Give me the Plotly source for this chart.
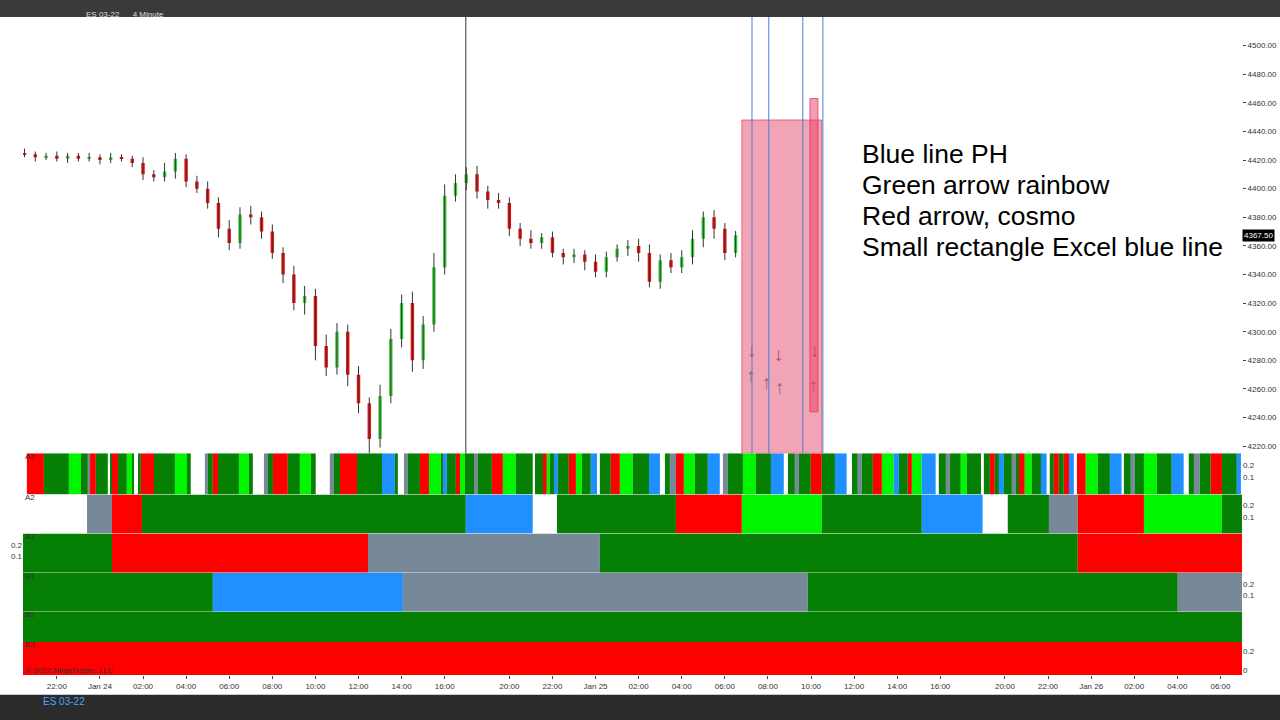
import plotly.graph_objects as go
from plotly.subplots import make_subplots

# x axis unit: trading hours from Jan 24 00:00 (the 17:00-18:00 break is skipped)
tick_pos = [-2, 0, 2, 4, 6, 8, 10, 12, 14, 16, 19, 21, 23, 25, 27, 29, 31, 33, 35, 37, 39, 42, 44, 46, 48, 50, 52]
tick_txt = ["22:00", "Jan 24", "02:00", "04:00", "06:00", "08:00", "10:00", "12:00", "14:00", "16:00",
            "20:00", "22:00", "Jan 25", "02:00", "04:00", "06:00", "08:00", "10:00", "12:00", "14:00",
            "16:00", "20:00", "22:00", "Jan 26", "02:00", "04:00", "06:00"]

# 30 minute candles, Jan 23 20:30 -> Jan 25 06:30
closes = [4424, 4422, 4423, 4421, 4423, 4421, 4422,
          4420, 4422, 4421, 4418, 4410, 4408, 4412, 4421, 4405, 4400, 4390, 4372, 4362, 4382, 4380,
          4370, 4355, 4340, 4320, 4325, 4290, 4275, 4300, 4270, 4250, 4225, 4255, 4295, 4320, 4280,
          4305, 4345, 4395, 4404,
          4410, 4398, 4392, 4390, 4372, 4365, 4362, 4366, 4355, 4352, 4354, 4349,
          4342, 4352, 4358, 4360, 4355, 4335, 4350, 4345, 4352, 4365, 4380, 4372, 4355, 4367.5]
wick_up = [3, 2, 2, 3, 2, 2, 3, 2, 3, 2, 2, 4, 3, 6, 4, 3, 4, 5, 4, 6, 5, 6, 4, 5, 4, 6, 7, 5, 8, 6,
           5, 6, 4, 8, 7, 6, 8, 6, 10, 8, 6, 5, 6, 4, 5, 4, 4, 6, 3, 4, 3, 4, 3, 5, 4, 3, 4, 5, 6,
           4, 5, 5, 6, 4, 5, 4, 3]
wick_dn = [2, 3, 2, 2, 3, 2, 2, 3, 2, 2, 3, 4, 3, 3, 5, 4, 3, 4, 6, 5, 4, 5, 5, 4, 6, 5, 8, 10, 6, 5,
           8, 7, 10, 6, 5, 6, 8, 6, 5, 5, 4, 5, 5, 6, 4, 5, 5, 4, 4, 3, 5, 4, 6, 4, 4, 3, 5, 6, 4,
           5, 4, 4, 5, 6, 7, 5, 3]
candle_x = [-3.5 + 0.5 * i for i in range(len(closes))]
opens = [4425] + closes[:-1]
highs = [max(o, c) + u for o, c, u in zip(opens, closes, wick_up)]
lows = [min(o, c) - d for o, c, d in zip(opens, closes, wick_dn)]

price_ticks = list(range(4220, 4501, 20))

# drawn objects on the price panel
zone_x = [29.79, 33.50]
zone_y = [4215, 4448]
small_x = [32.95, 33.32]
small_y = [4244, 4463]
blue_lines = [30.26, 31.04, 32.62, 33.55]
cursor_line = 16.98
red_arrow_x = [30.26, 31.50, 33.18]
red_arrow_y = [4286, 4283, 4286]
green_arrow_x = [30.21, 30.95, 31.55, 33.13]
green_arrow_y = [4268, 4263, 4260, 4261]

note_lines = ["Blue line PH", "Green arrow rainbow", "Red arrow, cosmo", "Small rectangle Excel blue line"]
note_y = [4424, 4402.5, 4381, 4359]

C = {"G": "#058005", "L": "#00f500", "R": "#ff0000", "Y": "#778899", "B": "#1e90ff", "W": "#ffffff"}

A1_start = [-3.39, -2.60, -1.44, -0.88, -0.56, -0.46, -0.19, 0.37, 0.51, 0.56, 0.84, 1.25, 1.53, 1.58,
            1.81, 1.90, 2.51, 3.48, 4.04, 4.22, 4.87, 5.01, 5.24, 5.48, 6.45, 6.91, 7.10, 7.61, 7.80,
            8.03, 8.72, 9.28, 9.79, 10.02, 10.67, 10.86, 11.14, 11.93, 13.09, 13.69, 13.83, 14.11,
            14.29, 14.85, 15.27, 15.82, 15.92, 16.10, 16.52, 16.71, 16.94, 17.36, 17.54, 18.19, 18.70,
            19.30, 20.09, 20.19, 20.56, 20.74, 20.88, 21.07, 21.25, 21.76, 22.09, 22.37, 22.78, 23.11,
            23.20, 23.71, 24.13, 24.73, 25.48, 25.99, 26.22, 26.45, 26.73, 27.10, 27.61, 28.21, 28.77,
            28.91, 29.14, 29.84, 30.44, 31.14, 31.74, 31.93, 32.25, 32.44, 32.99, 33.50, 34.11, 34.66,
            34.90, 35.17, 35.36, 35.87, 36.29, 36.84, 37.08, 37.49, 37.68, 38.14, 38.79, 38.93, 39.26,
            39.44, 39.95, 40.23, 40.93, 41.02, 41.30, 41.53, 41.72, 41.95, 42.32, 42.51, 42.65, 42.92,
            43.25, 43.67, 43.94, 44.08, 44.27, 44.50, 44.73, 44.97, 45.20, 45.34, 45.75, 46.31, 46.87,
            47.42, 47.52, 47.84, 48.03, 48.45, 49.05, 49.74, 50.30, 50.53, 50.77, 51.04, 51.55, 52.07,
            52.76]
A1_col = ("R G L G Y R G W G R G L G W G R G L G W Y G R G L G W Y G R G L G W Y G R G B G W Y G R L G B G "
          "R L G Y G R L G W G R L G B G R L G B W G R L G B W G Y R L G B W Y G L G B W G Y G R G B W G Y G "
          "R L B G R L B W G Y G L G W G R G B G Y G R L G B W G R G R B W R L G B W G Y G L G B W G Y G R G B").split()
A1_end = 52.95

A2_start = [-3.57, -0.60, 0.56, 1.95, 16.98, 20.09, 21.21, 26.73, 29.79, 33.50, 38.14, 40.97, 42.13, 44.04, 45.38, 48.45, 52.07]
A2_col = "W Y R G B W G R L G B W G Y R L G".split()
A3_start = [-3.57, 0.56, 12.44, 23.20, 45.38]
A3_col = "G R Y G R".split()
B1_start = [-3.57, 5.24, 14.06, 32.85, 50.02]
B1_col = "G B Y G Y".split()
B2_start = [-3.57]
B2_col = ["G"]
B3_start = [-3.57]
B3_col = ["R"]
x_end = 53.0

strips = [("A1", A1_start, A1_col, A1_end), ("A2", A2_start, A2_col, x_end), ("A3", A3_start, A3_col, x_end),
          ("B1", B1_start, B1_col, x_end), ("B2", B2_start, B2_col, x_end), ("B3", B3_start, B3_col, x_end)]

fig = make_subplots(rows=7, cols=1, shared_xaxes=True, vertical_spacing=0,
                    row_heights=[435, 41, 39, 39, 39, 30, 33])

# candles: wicks as one line trace, bodies as thin bars
wx, wy = [], []
for x, h, l in zip(candle_x, highs, lows):
    wx += [x, x, None]
    wy += [l, h, None]
fig.add_trace(go.Scatter(x=wx, y=wy, mode="lines", line=dict(color="#333", width=1),
                         showlegend=False, hoverinfo="skip"), row=1, col=1)
fig.add_trace(go.Bar(x=candle_x, base=[min(o, c) for o, c in zip(opens, closes)],
                     y=[max(abs(c - o), 0.8) for o, c in zip(opens, closes)], width=0.16,
                     marker=dict(color=["#3ccf3c" if c >= o else "#ee1111" for o, c in zip(opens, closes)],
                                 line=dict(width=0)),
                     showlegend=False), row=1, col=1)

fig.add_trace(go.Scatter(x=red_arrow_x, y=red_arrow_y, mode="text", text=["↓"] * 3,
                         textfont=dict(color="#b01030", size=19), showlegend=False), row=1, col=1)
fig.add_trace(go.Scatter(x=green_arrow_x, y=green_arrow_y, mode="text", text=["↑"] * 4,
                         textfont=dict(color="#2e7d4f", size=19), showlegend=False), row=1, col=1)

for i, (name, starts, cols, end) in enumerate(strips):
    ends = starts[1:] + [end]
    fig.add_trace(go.Bar(orientation="h", y=[0.125] * len(starts), base=starts,
                         x=[e - s for s, e in zip(starts, ends)], width=0.35,
                         marker=dict(color=[C[c] for c in cols], line=dict(width=0)),
                         showlegend=False, hoverinfo="skip"), row=i + 2, col=1)

fig.add_shape(type="rect", x0=zone_x[0], x1=zone_x[1], y0=zone_y[0], y1=zone_y[1],
              fillcolor="rgba(230,90,120,0.55)", line=dict(color="rgba(220,80,110,0.8)", width=1), row=1, col=1)
fig.add_shape(type="rect", x0=small_x[0], x1=small_x[1], y0=small_y[0], y1=small_y[1],
              fillcolor="rgba(235,60,100,0.5)", line=dict(color="rgba(220,60,100,0.8)", width=1), row=1, col=1)
for bx in blue_lines:
    fig.add_shape(type="line", x0=bx, x1=bx, y0=0, y1=1, xref="x", yref="y domain",
                  line=dict(color="#4a7fd4", width=1))
fig.add_shape(type="line", x0=cursor_line, x1=cursor_line, y0=0, y1=1, xref="x", yref="y domain",
              line=dict(color="#333333", width=1))

# dark toolbars
fig.add_shape(type="rect", xref="paper", yref="paper", x0=-0.1, x1=1.1, y0=1.0, y1=1.03,
              fillcolor="#3a3a3a", line_width=0)
fig.add_shape(type="rect", xref="paper", yref="paper", x0=-0.1, x1=1.1, y0=-0.07, y1=-0.030,
              fillcolor="#2b2b2b", line_width=0)

for txt, ny in zip(note_lines, note_y):
    fig.add_annotation(x=35.25, y=ny, xref="x", yref="y", xanchor="left", showarrow=False, text=txt,
                       font=dict(size=26.5, color="black", family="Liberation Sans"))
fig.add_annotation(x=1.0, y=4367.5, xref="paper", yref="y", xanchor="left", showarrow=False,
                   text="4367.50", bgcolor="black", font=dict(size=8, color="white"))
for i, (name, *_r) in enumerate(strips):
    fig.add_annotation(x=-3.55, y=0.27, xref="x", yref=f"y{i + 2}", xanchor="left", showarrow=False,
                       text=name, font=dict(size=8, color="#333"))
fig.add_annotation(x=-3.55, y=0.0, xref="x", yref="y7", xanchor="left", showarrow=False,
                   text="© 2022 NinjaTrader, LLC", font=dict(size=8, color="#333"))
fig.add_annotation(x=0.015, y=-0.052, xref="paper", yref="paper", showarrow=False,
                   text="ES 03-22", font=dict(size=10, color="#4aa3ff"))
fig.add_annotation(x=0.05, y=1.013, xref="paper", yref="paper", showarrow=False,
                   text="ES 03-22      4 Minute", font=dict(size=8, color="#ddd"))

fig.update_xaxes(range=[-3.57, 53.0], showgrid=False, zeroline=False, showticklabels=False,
                 tickvals=tick_pos, showline=False)
fig.update_xaxes(showticklabels=True, ticktext=tick_txt, tickvals=tick_pos, ticks="outside", ticklen=3,
                 tickfont=dict(size=8, color="#333"), row=7, col=1)
fig.update_yaxes(automargin=False)
fig.update_yaxes(range=[4215, 4520], side="right", tickvals=price_ticks,
                 ticktext=[f"{p:.2f}" for p in price_ticks], tickfont=dict(size=8, color="#333"),
                 showgrid=False, zeroline=False, ticks="outside", ticklen=3, row=1, col=1)
for r in range(2, 8):
    side = "left" if r == 4 else "right"
    tv = [] if r == 6 else ([0.2, 0.0] if r == 7 else [0.1, 0.2])
    fig.update_yaxes(range=[-0.05, 0.3], side=side, tickvals=tv, ticktext=[str(v) if v else "0" for v in tv],
                     tickfont=dict(size=8, color="#333"), showgrid=False, zeroline=False,
                     fixedrange=True, row=r, col=1)

fig.update_layout(width=1280, height=720, margin=dict(l=23, r=38, t=17, b=45, autoexpand=False),
                  plot_bgcolor="white", paper_bgcolor="white", barmode="overlay",
                  font=dict(family="Liberation Sans"), showlegend=False)

fig.write_html("out.html", config={"displayModeBar": False},
               post_script="document.body.style.margin='0';")
